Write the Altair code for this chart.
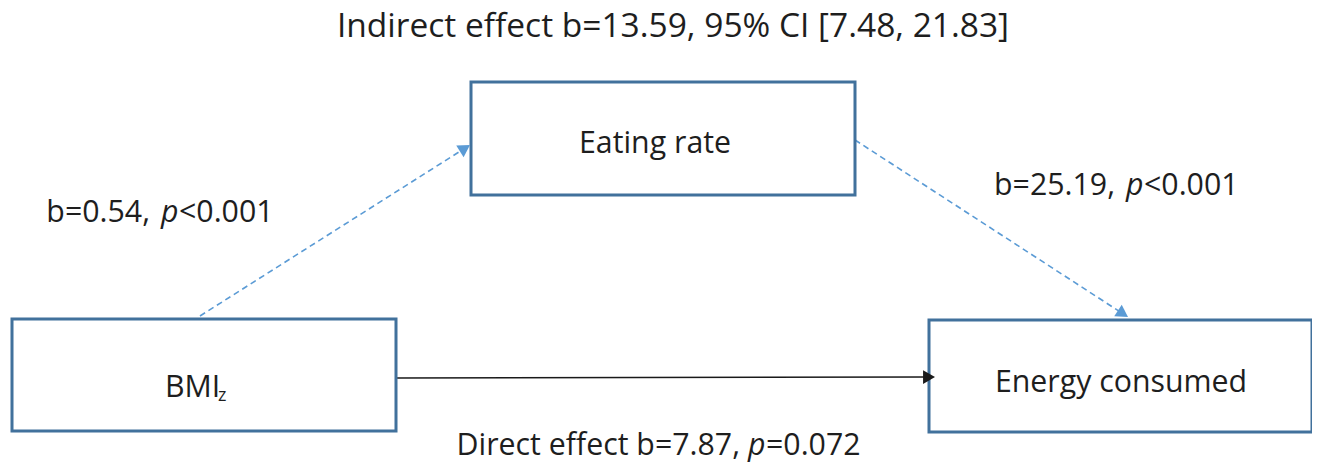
import altair as alt
import pandas as pd
import numpy as np

# ---- nodes (boxes) ----
node_names = ["Eating rate", "BMIz", "Energy consumed"]
node_x0 = [471, 12, 929]
node_x1 = [855, 396, 1312]
node_y0 = [82, 319, 320]
node_y1 = [195, 431, 432]

# ---- edges (arrows) ----
edge_names = ["BMI -> Eating rate", "Eating rate -> Energy", "BMI -> Energy (direct)"]
edge_x0 = [200, 855, 397]
edge_y0 = [316, 140, 378]
edge_x1 = [470, 1128, 935]
edge_y1 = [145, 317, 377]
edge_color = ["#5B9BD5", "#5B9BD5", "#1a1a1a"]
edge_dashed = [True, True, False]

# ---- text pieces ----
title_text = ["Indirect effect b=13.59, 95% CI [7.48, 21.83]"]
title_x = [673]
title_y = [37]

center_text = ["Eating rate", "Energy consumed"]
center_x = [655, 1121]
center_y = [153, 392]

left_text = ["BMI", "<0.001", "<0.001", "=0.072"]
left_x = [165, 179, 1144, 766]
left_y = [397, 222, 195, 455]

right_text = ["b=0.54,", "b=25.19,", "Direct effect b=7.87,"]
right_x = [150, 1115, 740]
right_y = [222, 195, 455]

italic_text = ["p", "p", "p"]
italic_x = [161, 1126, 748]
italic_y = [222, 195, 455]

sub_text = ["z"]
sub_x = [218]
sub_y = [401]

W, H = 1304, 455
xs = alt.Scale(domain=[8, 8 + W], nice=False, zero=False)
ys = alt.Scale(domain=[8, 8 + H], nice=False, zero=False, reverse=True)

nodes = pd.DataFrame({"name": node_names, "x0": node_x0, "x1": node_x1, "y0": node_y0, "y1": node_y1})

ex0 = np.array(edge_x0, float); ey0 = np.array(edge_y0, float)
ex1 = np.array(edge_x1, float); ey1 = np.array(edge_y1, float)
dx = ex1 - ex0; dy = ey1 - ey0
L = np.hypot(dx, dy)
ux, uy = dx / L, dy / L
head_size = 190
h = np.sqrt(3) / 2 * np.sqrt(head_size) / 2
edges = pd.DataFrame({
    "name": edge_names, "x0": ex0, "y0": ey0, "x1": ex1 - ux * h, "y1": ey1 - uy * h,
    "hx": ex1 - ux * h, "hy": ey1 - uy * h,
    "ang": np.degrees(np.arctan2(ux, -uy)) % 360,
    "col": edge_color, "dashed": edge_dashed,
})

FONT = "Open Sans"
FS = 30.3
TXT = "#1e1e1e"

X = lambda f: alt.X(f, type="quantitative", scale=xs, axis=None)
Y = lambda f: alt.Y(f, type="quantitative", scale=ys, axis=None)

dashed = alt.Chart(edges[edges.dashed]).mark_rule(strokeDash=[6, 4], strokeWidth=1.6, color="#5B9BD5").encode(
    x=X("x0"), y=Y("y0"), x2="x1", y2="y1")
solid = alt.Chart(edges[~edges.dashed]).mark_rule(strokeWidth=1.6, color="#1a1a1a").encode(
    x=X("x0"), y=Y("y0"), x2="x1", y2="y1")
boxes = alt.Chart(nodes).mark_rect(fill="white", stroke="#41719C", strokeWidth=3).encode(
    x=X("x0"), x2="x1", y=Y("y0"), y2="y1")
heads = alt.Chart(edges).mark_point(shape="triangle-up", filled=True, size=head_size, opacity=1).encode(
    x=X("hx"), y=Y("hy"), angle=alt.Angle("ang:Q", scale=None), color=alt.Color("col:N", scale=None))

def txt(texts, xsv, ysv, align, style="normal", size=FS):
    df = pd.DataFrame({"t": texts, "x": xsv, "y": ysv})
    return alt.Chart(df).mark_text(align=align, baseline="alphabetic", font=FONT, fontSize=size,
                                   fontStyle=style, color=TXT).encode(x=X("x"), y=Y("y"), text="t:N")

chart = alt.layer(
    dashed, solid, boxes, heads,
    txt(title_text, title_x, title_y, "center", size=33.5),
    txt(center_text, center_x, center_y, "center"),
    txt(left_text, left_x, left_y, "left"),
    txt(right_text, right_x, right_y, "right"),
    txt(italic_text, italic_x, italic_y, "left", style="italic"),
    txt(sub_text, sub_x, sub_y, "left", size=18),
).properties(width=W, height=H, padding=0, autosize="none", background="white").configure_view(stroke=None)

chart.save("out.html", embed_options={"renderer": "svg", "actions": False})
